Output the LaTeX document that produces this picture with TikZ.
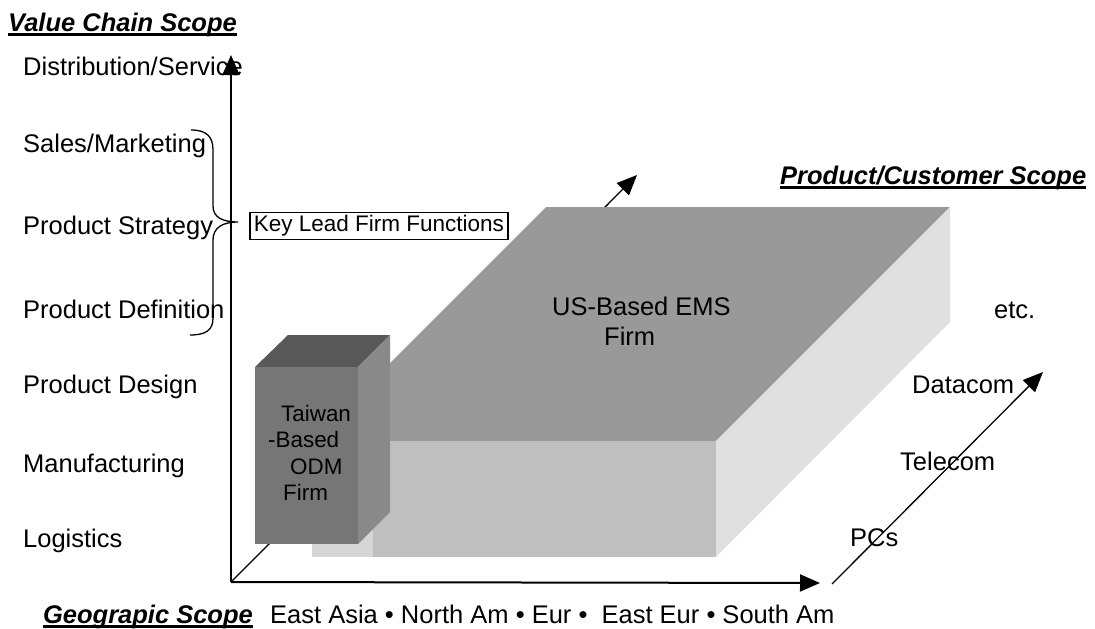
\documentclass[tikz,border=0pt]{standalone}
\usepackage{fontspec}
\setmainfont{Liberation Sans}
\usetikzlibrary{arrows.meta}

\definecolor{emstop}{HTML}{999999}
\definecolor{emsfront}{HTML}{BFBFBF}
\definecolor{emsside}{HTML}{E0E0E0}
\definecolor{emsstrip}{HTML}{D6D6D6}
\definecolor{odmtop}{HTML}{585858}
\definecolor{odmfront}{HTML}{767676}
\definecolor{odmside}{HTML}{898989}

% thick underline for the axis titles
\newcommand{\scopeline}[1]{\setbox0\hbox{#1}\rlap{\rule[-4.6pt]{\wd0}{2.3pt}}\box0}

\tikzset{
    rowlabel/.style = {
        anchor=base west,
        inner sep=0pt,
        font=\fontsize{25.5}{30}\selectfont
    },
    scopetitle/.style = {
        rowlabel,
        font=\fontsize{25.5}{30}\selectfont\bfseries\itshape
    },
    keybox/.style = {
        draw,
        shape=rectangle,
        anchor=west,
        inner xsep=4pt,
        inner ysep=3pt,
        line width=1.5pt,
        font=\fontsize{22.5}{26}\selectfont
    },
    firmtext/.style = {
        anchor=north west,
        inner sep=0pt,
        align=left
    },
    axis/.style = {
        draw,
        line width=2pt,
        ->
    },
    thinaxis/.style = {
        draw,
        line width=1.3pt,
        ->
    },
    >={Triangle[length=20pt,width=17pt]},
}

\begin{document}
\begin{tikzpicture}[x=1pt,y=-1pt]
    \useasboundingbox (0,0) rectangle (1095,629);

    \coordinate (origin) at (231,582);
    \coordinate (valuetip) at (231,55);
    \coordinate (geotip) at (820,583);
    \coordinate (depthtip) at (637,175);
    \coordinate (prodstart) at (832,584);
    \coordinate (prodtip) at (1043,372);

    \path[thinaxis] (origin) -- (depthtip);

    % US-based EMS firm block
    \fill[emstop] (546,207) -- (950,207) -- (716,441) -- (312,441) -- cycle;
    \fill[emsside] (950,207) -- (950,322) -- (716,557) -- (716,441) -- cycle;
    \fill[emsfront] (312,441) rectangle (716,557);
    \fill[emsstrip] (312,441) rectangle (373,557);

    % Taiwan-based ODM firm block
    \fill[odmtop] (255,367) -- (288,335) -- (390,335) -- (358,367) -- cycle;
    \fill[odmside] (358,367) -- (390,335) -- (390,512) -- (358,544) -- cycle;
    \fill[odmfront] (255,367) rectangle (358,544);

    \node[firmtext, font=\fontsize{25.5}{30}\selectfont] (ems) at (552,297)
        {US-Based EMS\\\hspace*{52pt}Firm};
    \node[firmtext, font=\fontsize{22.4}{26.3}\selectfont] (odm) at (268,405)
        {\hspace*{13pt}Taiwan\\-Based\\\hspace*{22pt}ODM\\\hspace*{15pt}Firm};

    \node[scopetitle] (valuetitle) at (8,31) {\scopeline{Value Chain Scope}};
    \node[scopetitle] (prodtitle) at (780,184) {\scopeline{Product/Customer Scope}};
    \node[scopetitle, anchor=base east] (geotitle) at (253,623) {\scopeline{Geograpic Scope}};
    \node[rowlabel] (regions) at (270,623) {East Asia • North Am • Eur •\ \ East Eur • South Am};

    \node[rowlabel] (distr) at (23,75) {Distribution/Service};
    \node[rowlabel] (sales) at (23,152) {Sales/Marketing};
    \node[rowlabel] (strategy) at (23,234) {Product Strategy};
    \node[rowlabel] (definition) at (23,318) {Product Definition};
    \node[rowlabel] (design) at (23,393) {Product Design};
    \node[rowlabel] (manuf) at (23,472) {Manufacturing};
    \node[rowlabel] (logistics) at (23,547) {Logistics};

    \node[rowlabel] (pcs) at (850,546) {PCs};
    \node[rowlabel] (telecom) at (900,470) {Telecom};
    \node[rowlabel] (datacom) at (912,393) {Datacom};
    \node[rowlabel] (etc) at (994,318) {etc.};

    \path[axis] (origin) -- (valuetip);
    \path[axis] (origin) -- (geotip);
    \path[thinaxis] (prodstart) -- (prodtip);

    \node[keybox] (keyfn) at (249,226) {Key Lead Firm Functions};
    \draw[line width=1.3pt] (191,130) .. controls (207,130) and (213,137) .. (213,150)
        -- (213,206) .. controls (213,217) and (222,222) .. (238,222)
        .. controls (222,222) and (213,228) .. (213,240)
        -- (213,318) .. controls (213,330) and (206,335) .. (190,335);
\end{tikzpicture}
\end{document}
